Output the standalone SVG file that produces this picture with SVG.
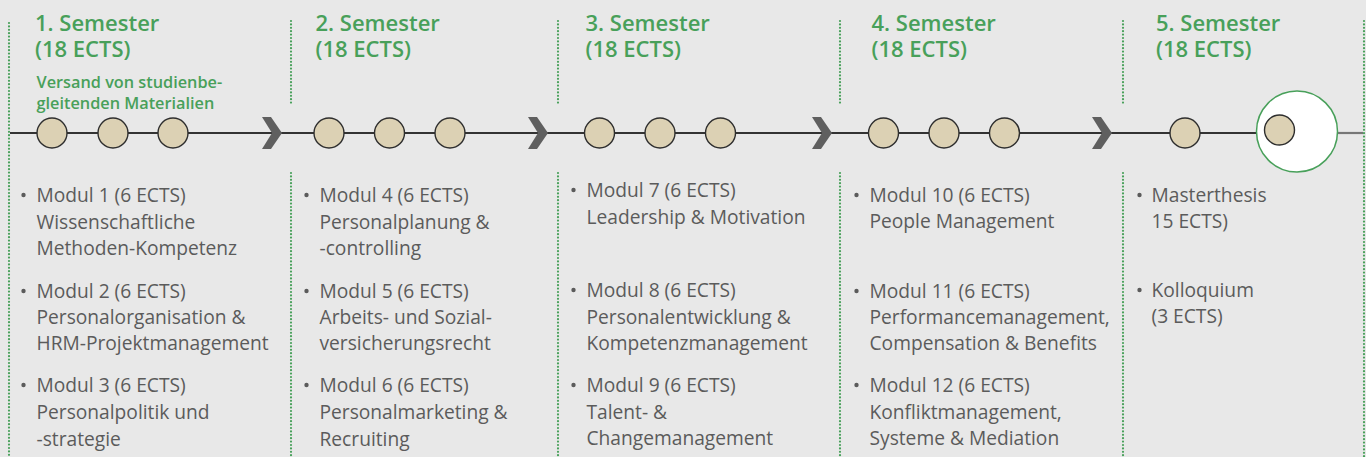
<svg xmlns="http://www.w3.org/2000/svg" width="1366" height="457" viewBox="0 0 1366 457">
<style>
.bg{fill:#e8e8e8}
.sep{stroke:#48a05a;stroke-width:2.2;stroke-dasharray:0 3.4;stroke-linecap:round;fill:none}
.hd{font-family:"Open Sans","Liberation Sans",sans-serif;font-weight:600;font-size:22px;fill:#48a05a}
.sub{font-family:"Open Sans","Liberation Sans",sans-serif;font-weight:600;font-size:16.3px;fill:#48a05a}
.mt{font-family:"Open Sans","Liberation Sans",sans-serif;font-weight:500;font-size:19.2px;fill:#5b5b5b}
.bul{fill:#5b5b5b}
.dot{fill:#dcd1b4;stroke:#2e2e2e;stroke-width:1.4}
.line{stroke:#333;stroke-width:2.2;fill:none}
.chev{fill:#5f5f5f}
</style>
<rect class="bg" x="0" y="0" width="1366" height="457"/>

<g id="separators">
<line class="sep" x1="9" y1="23" x2="9" y2="457"/>
<line class="sep" x1="291" y1="21" x2="291" y2="106"/>
<line class="sep" x1="291" y1="173" x2="291" y2="457"/>
<line class="sep" x1="558" y1="21" x2="558" y2="106"/>
<line class="sep" x1="558" y1="173" x2="558" y2="457"/>
<line class="sep" x1="840" y1="21" x2="840" y2="106"/>
<line class="sep" x1="840" y1="173" x2="840" y2="457"/>
<line class="sep" x1="1123" y1="21" x2="1123" y2="106"/>
<line class="sep" x1="1123" y1="173" x2="1123" y2="457"/>
<line class="sep" x1="1364" y1="21" x2="1364" y2="457"/>
</g>

<g id="connectors">
<line class="line" x1="10" y1="133" x2="1257" y2="133"/>
<line x1="1338" y1="133" x2="1363" y2="133" stroke="#777" stroke-width="2.2"/>
<polygon class="chev" points="262,117 271,117 282,133 271,149 262,149 272,133"/>
<polygon class="chev" points="528,117 537,117 548,133 537,149 528,149 538,133"/>
<polygon class="chev" points="812,117 821,117 832,133 821,149 812,149 822,133"/>
<polygon class="chev" points="1092,117 1101,117 1112,133 1101,149 1092,149 1102,133"/>
</g>

<g id="sem1">
<text class="hd" x="35" y="31">1. Semester<tspan x="35" dy="26">(18 ECTS)</tspan></text>
<text class="sub" x="36.5" y="87.5">Versand von studienbe-<tspan x="36.5" dy="21">gleitenden Materialien</tspan></text>
<circle class="dot" cx="52" cy="133" r="15"/>
<circle class="dot" cx="113" cy="133" r="15"/>
<circle class="dot" cx="173" cy="133" r="15"/>
<circle class="bul" cx="23.5" cy="195" r="2.2"/>
<text class="mt" x="36.5" y="202">Modul 1 (6 ECTS)</text>
<text class="mt" x="36.5" y="228.5">Wissenschaftliche</text>
<text class="mt" x="36.5" y="254.5">Methoden-Kompetenz</text>
<circle class="bul" cx="23.5" cy="291" r="2.2"/>
<text class="mt" x="36.5" y="298">Modul 2 (6 ECTS)</text>
<text class="mt" x="36.5" y="324">Personalorganisation &amp;</text>
<text class="mt" x="36.5" y="350">HRM-Projektmanagement</text>
<circle class="bul" cx="23.5" cy="385" r="2.2"/>
<text class="mt" x="36.5" y="392">Modul 3 (6 ECTS)</text>
<text class="mt" x="36.5" y="419">Personalpolitik und</text>
<text class="mt" x="36.5" y="445.5">-strategie</text>
</g>

<g id="sem2">
<text class="hd" x="315.5" y="31">2. Semester<tspan x="315.5" dy="26">(18 ECTS)</tspan></text>
<circle class="dot" cx="329" cy="133" r="15"/>
<circle class="dot" cx="389.5" cy="133" r="15"/>
<circle class="dot" cx="450" cy="133" r="15"/>
<circle class="bul" cx="306.5" cy="195" r="2.2"/>
<text class="mt" x="319.5" y="202">Modul 4 (6 ECTS)</text>
<text class="mt" x="319.5" y="228.5">Personalplanung &amp;</text>
<text class="mt" x="319.5" y="254.5">-controlling</text>
<circle class="bul" cx="306.5" cy="291" r="2.2"/>
<text class="mt" x="319.5" y="298">Modul 5 (6 ECTS)</text>
<text class="mt" x="319.5" y="324">Arbeits- und Sozial-</text>
<text class="mt" x="319.5" y="350">versicherungsrecht</text>
<circle class="bul" cx="306.5" cy="385" r="2.2"/>
<text class="mt" x="319.5" y="392">Modul 6 (6 ECTS)</text>
<text class="mt" x="319.5" y="419">Personalmarketing &amp;</text>
<text class="mt" x="319.5" y="445.5">Recruiting</text>
</g>

<g id="sem3">
<text class="hd" x="585.5" y="31">3. Semester<tspan x="585.5" dy="26">(18 ECTS)</tspan></text>
<circle class="dot" cx="599.5" cy="133" r="15"/>
<circle class="dot" cx="660" cy="133" r="15"/>
<circle class="dot" cx="720.5" cy="133" r="15"/>
<circle class="bul" cx="573.5" cy="190" r="2.2"/>
<text class="mt" x="586.5" y="197">Modul 7 (6 ECTS)</text>
<text class="mt" x="586.5" y="223.5">Leadership &amp; Motivation</text>
<circle class="bul" cx="573.5" cy="290" r="2.2"/>
<text class="mt" x="586.5" y="297">Modul 8 (6 ECTS)</text>
<text class="mt" x="586.5" y="323.5">Personalentwicklung &amp;</text>
<text class="mt" x="586.5" y="349.5">Kompetenzmanagement</text>
<circle class="bul" cx="573.5" cy="385" r="2.2"/>
<text class="mt" x="586.5" y="392">Modul 9 (6 ECTS)</text>
<text class="mt" x="586.5" y="419">Talent- &amp;</text>
<text class="mt" x="586.5" y="445">Changemanagement</text>
</g>

<g id="sem4">
<text class="hd" x="871.5" y="31">4. Semester<tspan x="871.5" dy="26">(18 ECTS)</tspan></text>
<circle class="dot" cx="883.5" cy="133" r="15"/>
<circle class="dot" cx="944" cy="133" r="15"/>
<circle class="dot" cx="1004.5" cy="133" r="15"/>
<circle class="bul" cx="856.5" cy="195" r="2.2"/>
<text class="mt" x="869.5" y="202">Modul 10 (6 ECTS)</text>
<text class="mt" x="869.5" y="228">People Management</text>
<circle class="bul" cx="856.5" cy="291" r="2.2"/>
<text class="mt" x="869.5" y="298">Modul 11 (6 ECTS)</text>
<text class="mt" x="869.5" y="324">Performancemanagement,</text>
<text class="mt" x="869.5" y="350">Compensation &amp; Benefits</text>
<circle class="bul" cx="856.5" cy="385" r="2.2"/>
<text class="mt" x="869.5" y="392">Modul 12 (6 ECTS)</text>
<text class="mt" x="869.5" y="419">Konfliktmanagement,</text>
<text class="mt" x="869.5" y="445">Systeme &amp; Mediation</text>
</g>

<g id="sem5">
<text class="hd" x="1156" y="31">5. Semester<tspan x="1156" dy="26">(18 ECTS)</tspan></text>
<circle class="dot" cx="1185" cy="133" r="15"/>
<circle cx="1297" cy="131.5" r="40.5" fill="#fff" stroke="#48a05a" stroke-width="1.5"/>
<circle class="dot" cx="1279.5" cy="130" r="15"/>
<circle class="bul" cx="1139.5" cy="195" r="2.2"/>
<text class="mt" x="1151.5" y="202">Masterthesis</text>
<text class="mt" x="1151.5" y="228">15 ECTS)</text>
<circle class="bul" cx="1139.5" cy="290" r="2.2"/>
<text class="mt" x="1151.5" y="297">Kolloquium</text>
<text class="mt" x="1151.5" y="323">(3 ECTS)</text>
</g>
</svg>
